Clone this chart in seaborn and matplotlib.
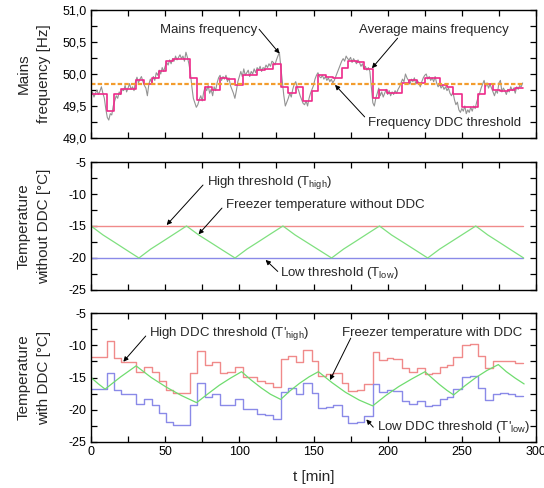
import numpy as np
import pandas as pd
import matplotlib
matplotlib.use("Agg")
import matplotlib.pyplot as plt
from matplotlib.ticker import MultipleLocator, FuncFormatter
import seaborn as sns

# ---------------- data ----------------
# mains frequency, one reading per minute (t = 0 .. 291 min)
freq_t = list(range(0, 292))
freq_raw = [
    49.66, 49.72, 49.64, 49.70, 49.75, 49.68, 49.73, 49.80, 49.70, 49.62,
    49.45, 49.32, 49.28, 49.38, 49.36, 49.50, 49.58, 49.66, 49.62, 49.72,
    49.68, 49.76, 49.74, 49.82, 49.72, 49.78, 49.85, 49.76, 49.80, 49.74,
    49.88, 49.95, 49.86, 49.92, 49.96, 49.88, 49.82, 49.78, 49.66, 49.84,
    49.92, 49.86, 49.96, 49.90, 50.02, 49.98, 50.06, 50.00, 50.10, 50.04,
    50.12, 50.18, 50.14, 50.22, 50.16, 50.24, 50.20, 50.28, 50.22, 50.26,
    50.30, 50.24, 50.28, 50.20, 50.34, 50.26, 50.16, 50.02, 49.80, 49.62,
    49.55, 49.48, 49.52, 49.60, 49.66, 49.58, 49.72, 49.80, 49.74, 49.82,
    49.70, 49.76, 49.66, 49.80, 49.74, 49.86, 49.94, 49.98, 49.90, 49.96,
    49.92, 49.98, 49.88, 49.94, 49.82, 49.76, 49.70, 49.62, 49.74, 49.88,
    49.96, 50.04, 49.96, 50.08, 49.98, 50.02, 50.06, 49.96, 50.04, 50.00,
    50.08, 50.02, 50.10, 50.06, 50.12, 50.04, 50.10, 50.08, 50.14, 50.10,
    50.16, 50.12, 50.20, 50.18, 50.14, 50.22, 50.28, 50.34, 50.10, 49.88,
    49.66, 49.50, 49.56, 49.62, 49.70, 49.64, 49.76, 49.84, 49.88, 49.80,
    49.74, 49.66, 49.60, 49.54, 49.52, 49.58, 49.50, 49.62, 49.70, 49.76,
    49.82, 49.92, 49.98, 50.02, 49.96, 49.94, 49.98, 49.92, 49.96, 49.90,
    49.94, 49.88, 49.92, 49.86, 49.90, 49.96, 50.02, 50.08, 50.14, 50.20,
    50.24, 50.20, 50.28, 50.24, 50.22, 50.26, 50.18, 50.24, 50.20, 50.16,
    50.22, 50.18, 50.12, 50.16, 50.08, 50.12, 50.06, 50.10, 50.04, 49.80,
    49.55, 49.50, 49.62, 49.70, 49.78, 49.66, 49.72, 49.64, 49.70, 49.76,
    49.68, 49.74, 49.66, 49.72, 49.68, 49.74, 49.70, 49.76, 49.80, 49.86,
    49.92, 49.88, 50.00, 49.94, 49.90, 49.84, 49.92, 49.88, 49.94, 49.84,
    49.90, 49.86, 49.80, 49.88, 49.94, 49.98, 50.00, 49.92, 49.96, 49.90,
    49.94, 49.88, 49.96, 49.86, 49.80, 49.84, 49.78, 49.82, 49.76, 49.80,
    49.74, 49.78, 49.70, 49.66, 49.72, 49.60, 49.52, 49.56, 49.44, 49.40,
    49.46, 49.42, 49.50, 49.38, 49.44, 49.40, 49.48, 49.42, 49.50, 49.46,
    49.56, 49.64, 49.70, 49.78, 49.84, 49.90, 49.80, 49.86, 49.78, 49.84,
    49.78, 49.72, 49.66, 49.74, 49.70, 49.86, 49.90, 49.72, 49.78, 49.74,
    49.68, 49.76, 49.72, 49.80, 49.74, 49.78, 49.70, 49.80, 49.76, 49.82,
    49.80, 49.86,
]

# averaging intervals (edges, min) shared by the average frequency and DDC thresholds
step_edges = [0, 10.6, 15.3, 20.4, 30.3, 35.5, 41.1, 45.6, 50.6, 55.5, 66.7,
              71.2, 76.6, 81.6, 87.0, 91.5, 96.9, 102.3, 107.2, 112.2, 117.3,
              122.9, 127.9, 133.0, 138.2, 143.1, 148.8, 153.3, 158.4, 163.4,
              169.0, 173.5, 179.1, 184.1, 189.9, 194.4, 199.4, 203.9, 209.4,
              214.6, 219.6, 225.2, 230.0, 235.3, 239.8, 244.3, 249.9, 255.5,
              261.1, 265.6, 271.2, 275.7, 281.3, 285.8, 291.5]
freq_avg = [49.69, 49.42, 49.69, 49.76, 49.91, 49.85, 49.93, 50.05, 50.20, 50.23,
            49.94, 49.59, 49.80, 49.75, 49.94, 49.92, 49.83, 49.99, 49.98, 50.06,
            50.08, 50.15, 49.79, 49.70, 49.79, 49.58, 49.74, 49.98, 49.95, 49.93,
            50.09, 50.21, 50.19, 50.08, 49.62, 49.75, 49.70, 49.71, 49.86, 49.91,
            49.86, 49.94, 49.93, 49.83, 49.80, 49.68, 49.49, 49.48, 49.69, 49.85,
            49.75, 49.74, 49.75, 49.78]
t_high_ddc = [-11.8, -9.3, -11.9, -12.6, -14.1, -13.4, -14.2, -15.5, -16.9, -17.4,
              -14.3, -10.9, -13.0, -12.6, -14.3, -14.2, -13.3, -14.9, -14.9, -15.6,
              -15.8, -16.5, -12.2, -11.6, -12.6, -10.8, -12.4, -14.8, -14.5, -14.3,
              -15.9, -17.1, -16.9, -16.0, -11.0, -12.3, -11.9, -12.1, -13.6, -14.1,
              -13.6, -14.4, -14.3, -13.3, -13.0, -11.8, -9.9, -9.8, -11.7, -13.5,
              -12.5, -12.4, -12.5, -12.8]
t_low_ddc = [-16.8, -14.3, -16.9, -17.6, -19.1, -18.4, -19.2, -20.5, -21.9, -22.4,
             -19.3, -15.9, -18.0, -17.6, -19.3, -19.2, -18.3, -19.9, -19.9, -20.6,
             -20.8, -21.5, -17.2, -16.6, -17.6, -15.8, -17.4, -19.8, -19.5, -19.3,
             -20.9, -22.1, -21.9, -21.0, -16.0, -17.3, -16.9, -17.1, -18.6, -19.1,
             -18.6, -19.4, -19.3, -18.3, -18.0, -16.8, -14.9, -14.8, -16.7, -18.5,
             -17.5, -17.4, -17.5, -17.8]

freq_threshold = 49.85
t_end = 291.5

# thresholds and freezer temperature without DDC
T_high = -15.0
T_low = -20.0
nod_t = [0, 8.1, 16.2, 24.2, 32.3, 40.3, 48.4, 56.4, 64.4, 72.6, 80.8, 88.9, 97.1,
         105.2, 113.3, 121.3, 129.4, 137.6, 145.8, 154.0, 162.2, 170.3, 178.4,
         186.4, 194.5, 202.6, 210.8, 218.9, 227.0, 235.1, 243.2, 251.3, 259.4,
         267.5, 275.6, 283.6, 291.7]
nod_T = [-15.0, -16.4, -17.6, -18.8, -20.0, -18.6, -17.4, -16.2, -15.0,
         -16.4, -17.6, -18.8, -20.0, -18.6, -17.4, -16.2, -15.0,
         -16.4, -17.6, -18.8, -20.0, -18.6, -17.4, -16.2, -15.0,
         -16.4, -17.6, -18.8, -20.0, -18.6, -17.4, -16.2, -15.0,
         -16.4, -17.6, -18.8, -20.0]

# freezer temperature with DDC
dd_t = [0, 4.75, 9.5, 20.0, 30.4, 40.6, 50.8, 61.0, 71.2, 79.0, 86.5, 94.0, 101.5,
        108.0, 114.7, 121.0, 127.9, 134.0, 140.6, 147.0, 153.3, 162.5, 171.6, 180.8,
        189.9, 198.7, 207.5, 216.4, 225.2, 230.0, 235.0, 240.0, 244.5, 252.0, 259.5,
        267.0, 274.6, 280.0, 286.0, 292.0]
dd_T = [-15.0, -15.95, -16.8, -14.9, -13.2, -15.0, -16.5, -17.8, -18.9, -17.5, -16.2,
        -15.1, -14.1, -15.4, -16.6, -17.6, -18.4, -17.1, -15.9, -14.9, -14.1, -15.8,
        -17.3, -18.5, -19.4, -17.8, -16.4, -15.2, -14.1, -15.1, -16.1, -17.0, -17.7,
        -16.3, -15.0, -13.9, -13.0, -14.1, -15.1, -16.0]

# ---------------- style ----------------
sns.set_theme(style="ticks")
plt.rcParams["font.family"] = ["Liberation Sans", "DejaVu Sans"]
plt.rcParams["mathtext.default"] = "regular"
plt.rcParams["axes.unicode_minus"] = False
plt.rcParams["axes.linewidth"] = 1.0
plt.rcParams["axes.edgecolor"] = "black"

TICK_FS = 9
LAB_FS = 11
ANN_FS = 9.5

fig = plt.figure(figsize=(5.44, 4.88), dpi=100)
W = 544.0
H = 488.0
left = 91 / W
width = 445 / W
ax1 = fig.add_axes([left, 1 - 138 / H, width, 128 / H])
ax2 = fig.add_axes([left, 1 - 290 / H, width, 128 / H])
ax3 = fig.add_axes([left, 1 - 442 / H, width, 129 / H])

arrow_kw = dict(arrowstyle="-|>", color="black", lw=0.7, mutation_scale=7,
                shrinkA=0, shrinkB=0)


def steps(edges, vals):
    return pd.DataFrame({"t": edges, "v": list(vals) + [vals[-1]]})


# ---- panel 1 ----
sns.lineplot(x=freq_t, y=freq_raw, ax=ax1, color="#939393", lw=0.8,
             estimator=None, sort=False)
s = steps(step_edges, freq_avg)
sns.lineplot(data=s, x="t", y="v", ax=ax1, color="#ee2a8a", lw=1.2,
             drawstyle="steps-post", estimator=None, sort=False)
sns.lineplot(x=[0, t_end], y=[freq_threshold, freq_threshold], ax=ax1,
             color="#f39c2d", lw=1.6, linestyle=(0, (2.0, 1.0)))
ax1.set_ylim(49.0, 51.0)
ax1.yaxis.set_major_locator(MultipleLocator(0.5))
ax1.yaxis.set_minor_locator(MultipleLocator(0.25))
ax1.yaxis.set_major_formatter(FuncFormatter(lambda v, p: f"{v:.1f}".replace(".", ",")))
ax1.set_ylabel("Mains\nfrequency [Hz]", fontsize=LAB_FS, linespacing=1.6)

ax1.text(46.5, 50.69, "Mains frequency", fontsize=ANN_FS, ha="left", va="center")
ax1.annotate("", xy=(127.1, 50.32), xytext=(113.3, 50.70), arrowprops=arrow_kw)
ax1.text(180.7, 50.69, "Average mains frequency", fontsize=ANN_FS, ha="left", va="center")
ax1.annotate("", xy=(189.4, 50.09), xytext=(206.7, 50.56), arrowprops=arrow_kw)
ax1.text(186.7, 49.23, "Frequency DDC threshold", fontsize=ANN_FS, ha="left", va="center")
ax1.annotate("", xy=(164.5, 49.83), xytext=(184.5, 49.33), arrowprops=arrow_kw)

# ---- panel 2 ----
sns.lineplot(x=[0, t_end], y=[T_high, T_high], ax=ax2, color="#f08a8a", lw=1.0)
sns.lineplot(x=[0, t_end], y=[T_low, T_low], ax=ax2, color="#8a8ae8", lw=1.0)
sns.lineplot(x=nod_t, y=nod_T, ax=ax2, color="#7fe07f", lw=0.9,
             estimator=None, sort=False)
ax2.set_ylim(-25, -5)
ax2.set_ylabel("Temperature\nwithout DDC [°C]", fontsize=LAB_FS, linespacing=1.6)

ax2.text(78.2, -8.17, "High threshold (T$_{high}$)", fontsize=ANN_FS, ha="left", va="center")
ax2.annotate("", xy=(51.0, -14.85), xytext=(75.5, -8.6), arrowprops=arrow_kw)
ax2.text(91.0, -11.7, "Freezer temperature without DDC", fontsize=ANN_FS, ha="left", va="center")
ax2.annotate("", xy=(72.5, -16.3), xytext=(88.3, -12.2), arrowprops=arrow_kw)
ax2.text(127.1, -22.3, "Low threshold (T$_{low}$)", fontsize=ANN_FS, ha="left", va="center")
ax2.annotate("", xy=(117.7, -20.3), xytext=(125.9, -22.1), arrowprops=arrow_kw)

# ---- panel 3 ----
s_hi = steps(step_edges, t_high_ddc)
s_lo = steps(step_edges, t_low_ddc)
sns.lineplot(data=s_hi, x="t", y="v", ax=ax3, color="#f08a8a", lw=1.0,
             drawstyle="steps-post", estimator=None, sort=False)
sns.lineplot(data=s_lo, x="t", y="v", ax=ax3, color="#8a8ae8", lw=1.0,
             drawstyle="steps-post", estimator=None, sort=False)
sns.lineplot(x=dd_t, y=dd_T, ax=ax3, color="#6fdc6f", lw=0.9,
             estimator=None, sort=False)
ax3.set_ylim(-25, -5)
ax3.set_ylabel("Temperature\nwith DDC [°C]", fontsize=LAB_FS, linespacing=1.6)
ax3.set_xlabel("t [min]", fontsize=LAB_FS)

ax3.text(39.1, -8.15, "High DDC threshold (T'$_{high}$)", fontsize=ANN_FS, ha="left", va="center")
ax3.annotate("", xy=(21.8, -12.55), xytext=(36.9, -8.57), arrowprops=arrow_kw)
ax3.text(169.2, -8.15, "Freezer temperature with DDC", fontsize=ANN_FS, ha="left", va="center")
ax3.annotate("", xy=(161.1, -15.4), xytext=(175.1, -8.9), arrowprops=arrow_kw)
ax3.text(192.6, -22.63, "Low DDC threshold (T'$_{low}$)", fontsize=ANN_FS, ha="left", va="center")
ax3.annotate("", xy=(185.6, -21.5), xytext=(190.3, -22.7), arrowprops=arrow_kw)

for ax in (ax2, ax3):
    ax.yaxis.set_major_locator(MultipleLocator(5))
    ax.yaxis.set_minor_locator(MultipleLocator(2.5))
    ax.yaxis.set_major_formatter(FuncFormatter(lambda v, p: f"{v:.0f}"))

for ax in (ax1, ax2, ax3):
    ax.set_xlim(0, 300)
    ax.xaxis.set_major_locator(MultipleLocator(50))
    ax.xaxis.set_minor_locator(MultipleLocator(25))
    ax.tick_params(which="both", direction="in", top=True, right=True,
                   labelsize=TICK_FS, width=0.9, colors="black", pad=3)
    ax.tick_params(which="major", length=4.5)
    ax.tick_params(which="minor", length=4.5)
    for sp in ax.spines.values():
        sp.set_visible(True)
        sp.set_color("black")
    ax.yaxis.set_label_coords(-0.09, 0.5)
    if ax is not ax3:
        ax.tick_params(labelbottom=False)
        ax.set_xlabel("")
ax3.xaxis.set_label_coords(0.5, -0.22)

fig.savefig("out.png", dpi=100)
